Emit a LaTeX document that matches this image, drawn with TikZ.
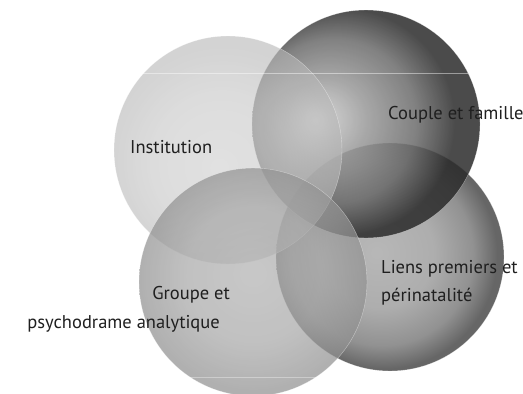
\documentclass[tikz,border=0pt]{standalone}
\usepackage{fontspec}
\setmainfont{PT Sans}
\usetikzlibrary{shadings}
\pgfdeclareradialshading{coupleshade}{\pgfpoint{-11bp}{1bp}}{%
  color(0bp)=(black!18); color(9bp)=(black!40); color(18bp)=(black!58); color(25bp)=(black!83); color(50bp)=(black!83)}
\pgfdeclareradialshading{liensshade}{\pgfpoint{-3bp}{1bp}}{%
  color(0bp)=(black!28); color(12bp)=(black!32); color(20bp)=(black!43); color(25bp)=(black!60); color(50bp)=(black!60)}
\pgfdeclareradialshading{instshade}{\pgfpoint{-2bp}{-4bp}}{%
  color(0bp)=(black!19); color(15bp)=(black!22); color(25bp)=(black!28); color(50bp)=(black!28)}
\pgfdeclareradialshading{groupeshade}{\pgfpoint{0bp}{2bp}}{%
  color(0bp)=(black!30); color(15bp)=(black!34); color(25bp)=(black!43); color(50bp)=(black!43)}
\tikzset{
  disc/.style={circle, minimum size=228pt, inner sep=0pt, draw=white, draw opacity=0.45, line width=0.4pt},
  lbl/.style={font=\fontsize{18.5}{22}\selectfont, text=black!88, inner sep=0pt},
}
\begin{document}
\begin{tikzpicture}[x=1pt,y=-1pt]
\useasboundingbox (0,0) rectangle (523,394);
\node[disc, shading=liensshade] (liens) at (390,257) {};
\node[disc, shading=coupleshade, fill opacity=0.85] (couple) at (366,124) {};
\node[disc, shading=instshade, fill opacity=0.62] (inst) at (228,150) {};
\node[disc, shading=groupeshade, fill opacity=0.72] (groupe) at (253,282) {};
\coordinate (la) at (143,73);
\coordinate (lb) at (468,73);
\coordinate (lc) at (188,377);
\coordinate (ld) at (318,377);
\draw[white, opacity=0.45, line width=0.6pt] (la) -- (lb);
\draw[white, opacity=0.35, line width=0.6pt] (lc) -- (ld);
\node[lbl, anchor=base west] (tinst) at (130,153) {Institution};
\node[lbl, anchor=base west] (tcouple) at (388,119.5) {Couple et famille};
\node[lbl, anchor=base west] (tliens1) at (381,273) {Liens premiers et};
\node[lbl, anchor=base west] (tliens2) at (381,301) {périnatalité};
\node[lbl, anchor=base east] (tgroupe1) at (230,299) {Groupe et};
\node[lbl, anchor=base east] (tgroupe2) at (220,328) {psychodrame analytique};
\end{tikzpicture}
\end{document}
